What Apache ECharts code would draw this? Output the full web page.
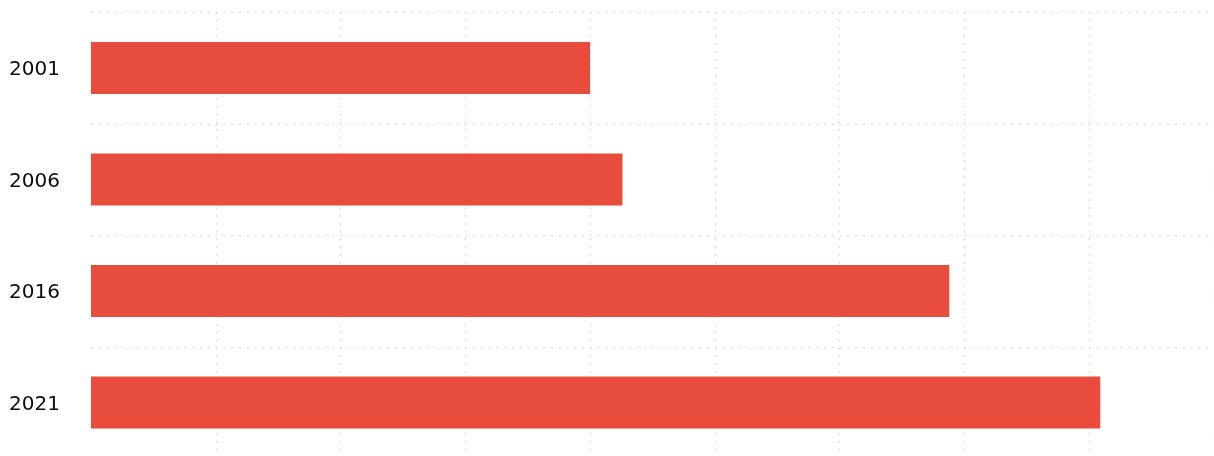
<!DOCTYPE html>
<html>
<head>
<meta charset="utf-8">
<script src="https://cdn.jsdelivr.net/npm/echarts@6/dist/echarts.min.js"></script>
<style>
  html, body { margin: 0; padding: 0; background: #fff; overflow: hidden; }
  /* the last category band runs a little past the bottom edge of the page */
  #chart { width: 1214px; height: 472px; }
</style>
</head>
<body>
<div id="chart"></div>
<script>
// Years shown as categories, top to bottom
const years = ['2001', '2006', '2016', '2021'];
// Bar lengths on the value axis
const values = [4.0, 4.26, 6.88, 8.09];
// Value axis range and step (no tick labels shown)
const axisMin = 0;
const axisMax = 9;
const axisStep = 1;

const chart = echarts.init(document.getElementById('chart'), null, { renderer: 'canvas' });

const dotted = { color: '#d2d2d2', width: 1.2, type: [1.5, 6.3] };

chart.setOption({
  animation: false,
  backgroundColor: '#ffffff',
  grid: { left: 91, top: 12.3, width: 1122.8, height: 446, containLabel: false },
  xAxis: {
    type: 'value',
    min: axisMin,
    max: axisMax,
    interval: axisStep,
    axisLine: { show: false },
    axisTick: { show: false },
    axisLabel: { show: false },
    splitLine: { show: true, showMinLine: false, lineStyle: dotted }
  },
  yAxis: {
    type: 'category',
    data: years,
    inverse: true,
    axisLine: { show: false },
    axisTick: { show: false },
    axisLabel: {
      margin: 31,
      color: '#0d0d0d',
      fontFamily: 'DejaVu Sans',
      fontSize: 20,
      // year labels sit a touch below the bar centre line
      verticalAlign: 'top',
      lineHeight: 4
    },
    splitLine: { show: true, lineStyle: dotted }
  },
  series: [{
    type: 'bar',
    data: values,
    barWidth: 52,
    itemStyle: { color: '#e74c3c' }
  }]
});
</script>
</body>
</html>
